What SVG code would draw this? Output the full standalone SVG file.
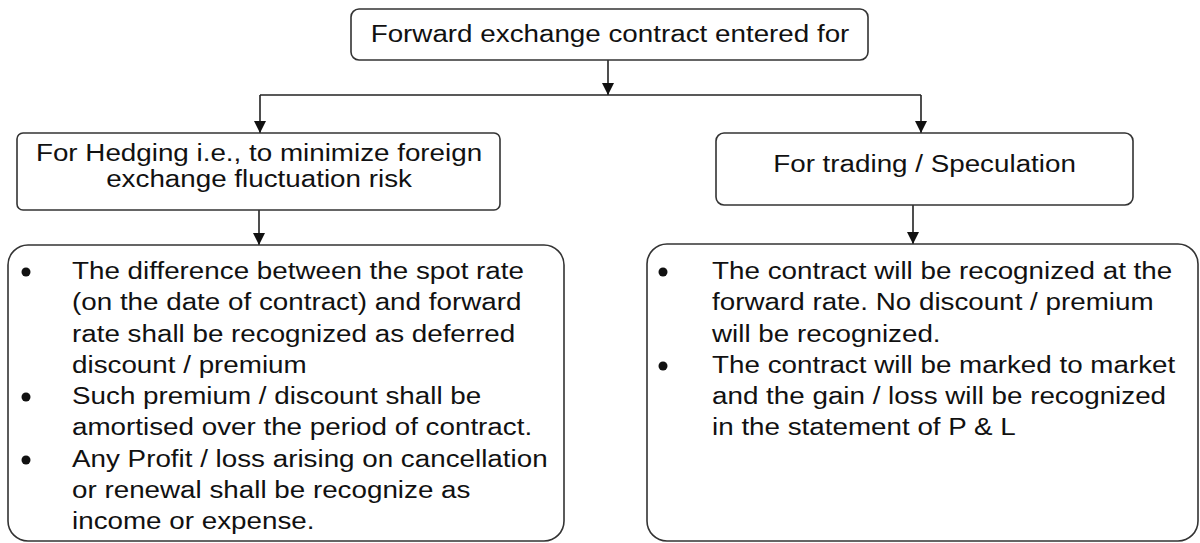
<svg xmlns="http://www.w3.org/2000/svg" width="1200" height="543" viewBox="0 0 1200 543">
<style>
.box{fill:#fff;stroke:#333;stroke-width:1.6}
.t{font-family:"Liberation Sans",Arial,sans-serif;font-size:24px;fill:#111}
.c{text-anchor:middle}
.b{fill:#111}
.con{fill:none;stroke:#222;stroke-width:1.6}
</style>
<defs>
<marker id="ah" markerUnits="userSpaceOnUse" markerWidth="14" markerHeight="14" viewBox="0 0 14 14" refX="13" refY="7" orient="auto">
<path d="M1 1 L13 7 L1 13 Z" fill="#111"/>
</marker>
</defs>
<rect width="1200" height="543" fill="#fff"/>
<g id="connectors">
<path class="con" d="M608 60 V95" marker-end="url(#ah)"/>
<path class="con" d="M260 95 H921"/>
<path class="con" d="M260 95 V133" marker-end="url(#ah)"/>
<path class="con" d="M921 95 V133" marker-end="url(#ah)"/>
<path class="con" d="M259 210 V245" marker-end="url(#ah)"/>
<path class="con" d="M913 205 V244" marker-end="url(#ah)"/>
</g>
<g id="top">
<rect class="box" x="351" y="9" width="517" height="51" rx="8"/>
<text class="t c" transform="scale(1.158 1)" x="526.8" y="42">Forward exchange contract entered for</text>
</g>
<g id="hedging">
<rect class="box" x="17" y="133" width="483" height="77" rx="6"/>
<text class="t c" transform="scale(1.158 1)" x="223.7" y="161">For Hedging i.e., to minimize foreign</text>
<text class="t c" transform="scale(1.158 1)" x="223.7" y="187">exchange fluctuation risk</text>
</g>
<g id="trading">
<rect class="box" x="716" y="133" width="417" height="72" rx="8"/>
<text class="t c" transform="scale(1.158 1)" x="798.4" y="172">For trading / Speculation</text>
</g>
<g id="hedging-rules">
<rect class="box" x="8" y="245" width="556" height="296" rx="20"/>
<circle class="b" cx="26" cy="272" r="4.5"/>
<circle class="b" cx="26" cy="397" r="4.5"/>
<circle class="b" cx="26" cy="460" r="4.5"/>
<g class="t" transform="scale(1.158 1)">
<text x="62.2" y="279">The difference between the spot rate</text>
<text x="62.2" y="310.3">(on the date of contract) and forward</text>
<text x="62.2" y="341.6">rate shall be recognized as deferred</text>
<text x="62.2" y="372.9">discount / premium</text>
<text x="62.2" y="404.2">Such premium / discount shall be</text>
<text x="62.2" y="435.5">amortised over the period of contract.</text>
<text x="62.2" y="466.8">Any Profit / loss arising on cancellation</text>
<text x="62.2" y="498.1">or renewal shall be recognize as</text>
<text x="62.2" y="529.4">income or expense.</text>
</g>
</g>
<g id="trading-rules">
<rect class="box" x="647" y="244" width="551" height="297" rx="20"/>
<circle class="b" cx="663" cy="272" r="4.5"/>
<circle class="b" cx="663" cy="366" r="4.5"/>
<g class="t" transform="scale(1.158 1)">
<text x="614.9" y="279">The contract will be recognized at the</text>
<text x="614.9" y="310.3">forward rate. No discount / premium</text>
<text x="614.9" y="341.6">will be recognized.</text>
<text x="614.9" y="372.9">The contract will be marked to market</text>
<text x="614.9" y="404.2">and the gain / loss will be recognized</text>
<text x="614.9" y="435.5">in the statement of P &amp; L</text>
</g>
</g>
</svg>
